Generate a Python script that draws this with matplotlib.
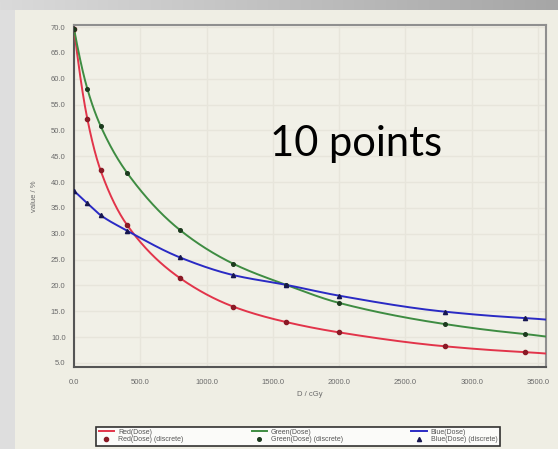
import numpy as np
import matplotlib
matplotlib.use("Agg")
import matplotlib.pyplot as plt
from matplotlib.patches import Rectangle

# ---- data ----
dose = [0, 100, 200, 400, 800, 1200, 1600, 2000, 2800, 3400]
red_vals = [69.7, 52.3, 42.3, 31.7, 21.4, 15.9, 12.9, 10.9, 8.2, 7.1]
green_vals = [69.7, 58.1, 50.9, 41.8, 30.7, 24.2, 20.1, 16.6, 12.5, 10.6]
blue_vals = [38.3, 35.9, 33.6, 30.6, 25.4, 22.0, 20.1, 18.0, 14.9, 13.7]
x_ticks = [0, 500, 1000, 1500, 2000, 2500, 3000, 3500]
y_ticks = [5, 10, 15, 20, 25, 30, 35, 40, 45, 50, 55, 60, 65, 70]
legend_labels = ["Red(Dose)", "Red(Dose) (discrete)",
                 "Green(Dose)", "Green(Dose) (discrete)",
                 "Blue(Dose)", "Blue(Dose) (discrete)"]
x_label = "D / cGy"
y_label = "value / %"
annotation = "10 points"


def pchip(x, y, xn):
    """Monotone cubic Hermite curve through the given points (for drawing)."""
    x = np.asarray(x, float)
    y = np.asarray(y, float)
    h = np.diff(x)
    d = np.diff(y) / h
    n = len(x)
    m = np.zeros(n)
    for k in range(1, n - 1):
        if d[k - 1] * d[k] > 0:
            w1 = 2 * h[k] + h[k - 1]
            w2 = h[k] + 2 * h[k - 1]
            m[k] = (w1 + w2) / (w1 / d[k - 1] + w2 / d[k])
    def end(h0, h1, d0, d1):
        v = ((2 * h0 + h1) * d0 - h0 * d1) / (h0 + h1)
        if np.sign(v) != np.sign(d0):
            v = 0.0
        elif np.sign(d0) != np.sign(d1) and abs(v) > abs(3 * d0):
            v = 3 * d0
        return v
    m[0] = end(h[0], h[1], d[0], d[1])
    m[-1] = end(h[-1], h[-2], d[-1], d[-2])
    idx = np.clip(np.searchsorted(x, xn) - 1, 0, n - 2)
    t = (xn - x[idx]) / h[idx]
    h00 = 2 * t**3 - 3 * t**2 + 1
    h10 = t**3 - 2 * t**2 + t
    h01 = -2 * t**3 + 3 * t**2
    h11 = t**3 - t**2
    return h00 * y[idx] + h10 * h[idx] * m[idx] + h01 * y[idx + 1] + h11 * h[idx] * m[idx + 1]


W, H = 558, 449
fig = plt.figure(figsize=(W / 100, H / 100), dpi=100)
fig.patch.set_facecolor("#dedede")

# background: slide gradient + cream panel
bg = fig.add_axes([0, 0, 1, 1], zorder=-10)
bg.set_axis_off()
grad = np.linspace(0, 1, 256)[None, :]
bg.imshow(grad, extent=[0, W, H - 10, H], aspect="auto",
          cmap=matplotlib.colors.LinearSegmentedColormap.from_list("g", ["#dadada", "#a6a6a6"]))
bg.add_patch(Rectangle((0, 0), 15, H - 10, facecolor="#dedede", edgecolor="none"))
bg.add_patch(Rectangle((15, 0), W - 15, H - 10, facecolor="#efeee4", edgecolor="none"))
bg.set_xlim(0, W)
bg.set_ylim(0, H)

ax = fig.add_axes([74 / W, 1 - 367 / H, (546 - 74) / W, (367 - 25) / H])
ax.set_facecolor("#f1f0e7")
ax.set_xlim(0, 3560)
ax.set_ylim(4.2, 70.4)

xs = np.linspace(0, 3560, 600)
xs_fit = np.clip(xs, dose[0], dose[-1])
red_c, green_c, blue_c = "#e2344a", "#3e8c42", "#2a2ac4"

def extend(vals):
    # line continues to right edge following last segment slope
    yv = pchip(dose, vals, xs_fit)
    slope = (vals[-1] - vals[-2]) / (dose[-1] - dose[-2])
    return np.where(xs > dose[-1], vals[-1] + slope * (xs - dose[-1]), yv)

l_r, = ax.plot(xs, extend(red_vals), color=red_c, lw=1.4, zorder=3)
p_r, = ax.plot(dose, red_vals, "o", color="#8a1a26", ms=3, zorder=4, ls="none")
l_g, = ax.plot(xs, extend(green_vals), color=green_c, lw=1.4, zorder=3)
p_g, = ax.plot(dose, green_vals, "o", color="#1c3a1e", ms=2.6, zorder=4, ls="none")
l_b, = ax.plot(xs, extend(blue_vals), color=blue_c, lw=1.4, zorder=3)
p_b, = ax.plot(dose, blue_vals, "^", color="#161650", ms=3, zorder=4, ls="none")

ax.set_xticks(x_ticks)
ax.set_yticks(y_ticks)
ax.set_xticklabels([f"{v:.1f}" for v in x_ticks])
ax.set_yticklabels([f"{v:.1f}" for v in y_ticks])
ax.tick_params(length=0, labelsize=5.5, colors="#6a6a6a", pad=6,
               labelfontfamily="Liberation Sans")
ax.tick_params(axis="x", pad=9)
ax.grid(True, color="#e7e5db", lw=1.0)
ax.set_axisbelow(True)
for s in ["left", "bottom"]:
    ax.spines[s].set_color("#555555")
    ax.spines[s].set_linewidth(1.5)
for s in ["top", "right"]:
    ax.spines[s].set_color("#8f8f8f")
    ax.spines[s].set_linewidth(1.5)

ax.set_xlabel(x_label, fontsize=5.5, color="#6a6a6a", family="Liberation Sans", labelpad=3)
ax.set_ylabel(y_label, fontsize=5.5, color="#6a6a6a", family="Liberation Sans", labelpad=9)

fig.text(270 / W, 1 - 156 / H, annotation, fontsize=30, family="Lato",
         color="black", ha="left", va="baseline")

handles = [l_r, p_r, l_g, p_g, l_b, p_b]
leg = fig.legend(handles, legend_labels, ncol=3, loc="lower left",
                 bbox_to_anchor=(93 / W, 1 - 449 / H, (503 - 93) / W, (449 - 420) / H),
                 mode="expand", frameon=True, fancybox=False,
                 borderpad=0.3, labelspacing=0.1, handlelength=2.2, handletextpad=0.6,
                 columnspacing=1.0, prop={"family": "Liberation Sans", "size": 5})
leg.get_frame().set_edgecolor("black")
leg.get_frame().set_linewidth(1.2)
leg.get_frame().set_facecolor("white")
for t in leg.get_texts():
    t.set_color("#555555")

fig.savefig("out.png", dpi=100)
